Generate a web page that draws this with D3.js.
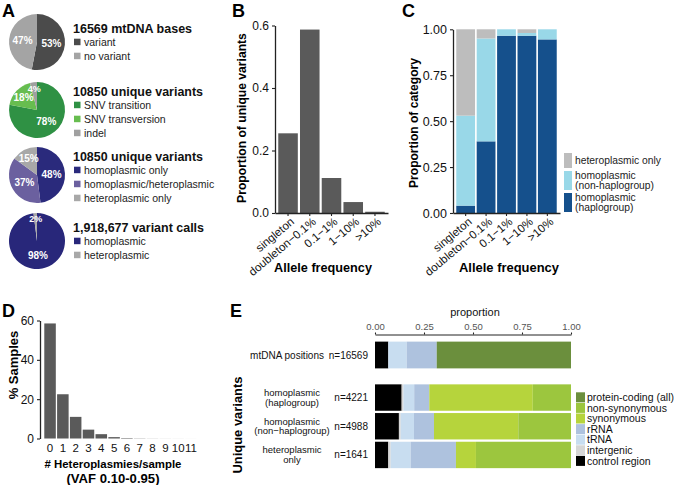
<!DOCTYPE html>
<html><head><meta charset="utf-8">
<script src="https://cdn.jsdelivr.net/npm/d3@7"></script>
<style>body{margin:0;background:#fff}svg{display:block}</style>
</head><body><svg id="c" width="675" height="485"></svg>
<script>
// ---------- DATA ----------
const pieTitles = ["16569 mtDNA bases", "10850 unique variants", "10850 unique variants", "1,918,677 variant calls"];
const pie1Labels = ["variant", "no variant"];
const pie1Values = [53, 47];
const pie2Labels = ["SNV transition", "SNV transversion", "indel"];
const pie2Values = [78, 18, 4];
const pie3Labels = ["homoplasmic only", "homoplasmic/heteroplasmic", "heteroplasmic only"];
const pie3Values = [48, 37, 15];
const pie4Labels = ["homoplasmic", "heteroplasmic"];
const pie4Values = [98, 2];

const freqCategories = ["singleton", "doubleton\u22120.1%", "0.1\u22121%", "1\u221210%", ">10%"];
const bValues = [0.255, 0.587, 0.112, 0.035, 0.004];
const bTicks = [0, 0.2, 0.4, 0.6];

const cSeries = ["homoplasmic (haplogroup)", "homoplasmic (non-haplogroup)", "heteroplasmic only"];
const cHaplogroup = [0.04, 0.39, 0.965, 0.965, 0.945];
const cNonHaplogroup = [0.49, 0.56, 0.035, 0.015, 0.055];
const cHeteroOnly = [0.47, 0.05, 0.0, 0.02, 0.0];
const cTicks = [0, 0.25, 0.5, 0.75, 1];

const dCategories = ["0", "1", "2", "3", "4", "5", "6", "7", "8", "9", "10", "11"];
const dValues = [58.5, 22.5, 11, 4.5, 2.2, 0.7, 0.25, 0.1, 0.05, 0.03, 0.02, 0.01];
const dTicks = [0, 20, 40, 60];

const eRows = ["mtDNA positions", "homoplasmic\n(haplogroup)", "homoplasmic\n(non\u2212haplogroup)", "heteroplasmic\nonly"];
const eN = [16569, 4221, 4988, 1641];
const eSeries = ["control region", "intergenic", "tRNA", "rRNA", "synonymous", "non-synonymous", "protein-coding (all)"];
const eControlRegion = [0.068, 0.136, 0.122, 0.068];
const eIntergenic = [0.0, 0.009, 0.009, 0.012];
const eTRNA = [0.094, 0.055, 0.068, 0.102];
const eRRNA = [0.153, 0.077, 0.102, 0.231];
const eSynonymous = [0.0, 0.528, 0.43, 0.102];
const eNonSynonymous = [0.0, 0.195, 0.269, 0.485];
const eProteinCodingAll = [0.685, 0.0, 0.0, 0.0];
const eTicks = [0, 0.25, 0.5, 0.75, 1];

// ---------- DRAW ----------
const FONT = '"Liberation Sans", Arial, Helvetica, sans-serif';
const svg = d3.select("#c").style("font-family", FONT);
svg.append("rect").attr("width", 675).attr("height", 485).attr("fill", "#fff");

function txt(x, y, s, opt = {}) {
  const t = svg.append("text").attr("x", x).attr("y", y).text(s)
    .style("font-family", FONT)
    .style("font-size", (opt.size || 11) + "px")
    .style("font-weight", opt.bold ? "bold" : "normal")
    .attr("fill", opt.fill || "#111")
    .attr("text-anchor", opt.anchor || "start");
  if (opt.rotate) t.attr("transform", `rotate(${opt.rotate},${x},${y})`);
  if (opt.dy) t.attr("dy", opt.dy);
  if (opt.fit) fit(t, opt.fit);
  return t;
}
// scale font size so the rendered text has the width seen in the reference
function fit(t, target) {
  const w = t.node().getComputedTextLength();
  if (w > 0) {
    const fs = parseFloat(t.style("font-size"));
    const k = Math.max(0.85, Math.min(1.3, target / w));
    t.style("font-size", (fs * k).toFixed(2) + "px");
  }
}
function styleAxis(g, size = 11, fill = "#111") {
  g.select(".domain").attr("stroke", "#222").attr("stroke-width", 1.3);
  g.selectAll(".tick line").attr("stroke", "#222").attr("stroke-width", 1.1);
  g.selectAll(".tick text").attr("fill", fill).style("font-size", size + "px").style("font-family", FONT);
}

// panel letters
[["A", 2, 17], ["B", 232, 17], ["C", 402, 17], ["D", 2, 317], ["E", 230, 317]].forEach(l =>
  txt(l[1], l[2], l[0], { size: 18, bold: true, fill: "#000" }));

// ---------- Panel A: pies ----------
const R = 28;
const pies = [
  { title: pieTitles[0], labels: pie1Labels, values: pie1Values, colors: ["#4b4b4b", "#a4a4a4"], cy: 42, tw: 119 },
  { title: pieTitles[1], labels: pie2Labels, values: pie2Values, colors: ["#2f9144", "#67bd4f", "#a0a0a0"], cy: 110, tw: 130 },
  { title: pieTitles[2], labels: pie3Labels, values: pie3Values, colors: ["#2a2a7c", "#6b609f", "#a8a8a8"], cy: 175, tw: 130 },
  { title: pieTitles[3], labels: pie4Labels, values: pie4Values, colors: ["#28277a", "#a8a8a8"], cy: 241, tw: 131 }
];
pies.forEach(p => {
  const g = svg.append("g").attr("transform", `translate(37,${p.cy})`);
  const arcs = d3.pie().sort(null)(p.values);
  const arc = d3.arc().innerRadius(0).outerRadius(R);
  g.selectAll("path").data(arcs).join("path").attr("d", arc).attr("fill", (d, i) => p.colors[i]);
  const total = d3.sum(p.values);
  g.selectAll("text").data(arcs).join("text")
    .text(d => d.data + "%")
    .attr("transform", d => {
      const f = d.value / total;
      const lr = f >= 0.3 ? 0.52 * R : (f >= 0.1 ? 0.66 * R : 0.78 * R);
      const c = d3.arc().innerRadius(lr).outerRadius(lr).centroid(d);
      return `translate(${c[0]},${c[1]})`;
    })
    .attr("text-anchor", "middle").attr("dy", "0.36em")
    .attr("fill", "#fff").style("font-family", FONT).style("font-size", "10.5px").style("font-weight", "bold")
    .each(function (d) { fit(d3.select(this), String(d.data).length >= 2 ? 20 : 13); });
  const n = p.labels.length;
  const ty = p.cy - 14 - (n - 2) * 5;
  txt(73, ty + 4.5, p.title, { size: 12.5, bold: true, fill: "#111", fit: p.tw });
  p.labels.forEach((lab, i) => {
    const yy = ty + 14 * (i + 1);
    svg.append("rect").attr("x", 74).attr("y", yy - 3.3).attr("width", 6.5).attr("height", 6.5).attr("fill", p.colors[i]);
    txt(84, yy + 3.8, lab, { size: 10.5, fill: "#222" });
  });
});

// ---------- Panel B ----------
{
  const x = d3.scaleBand().domain(freqCategories).range([275, 388]).paddingInner(0.1).paddingOuter(0.15);
  const y = d3.scaleLinear().domain([0, 0.6]).range([213, 25.5]);
  svg.append("g").selectAll("rect").data(bValues).join("rect")
    .attr("x", (d, i) => x(freqCategories[i])).attr("width", x.bandwidth())
    .attr("y", d => y(d)).attr("height", d => y(0) - y(d)).attr("fill", "#5a5a5a");
  const ga = svg.append("g").attr("transform", "translate(275,0)")
    .call(d3.axisLeft(y).tickValues(bTicks).tickFormat(d3.format(".1f")).tickSize(3).tickSizeOuter(0));
  styleAxis(ga, 12);
  const gb = svg.append("g").attr("transform", "translate(0,213)")
    .call(d3.axisBottom(x).tickSize(3).tickSizeOuter(0));
  styleAxis(gb, 11.5);
  gb.selectAll(".tick text").attr("x", -1).attr("y", 8).attr("dy", "0.35em")
    .attr("text-anchor", "end").attr("transform", "rotate(-40)");
  txt(246, 118, "Proportion of unique variants", { size: 12, bold: true, anchor: "middle", rotate: -90, fill: "#000", fit: 170 });
  txt(323, 272, "Allele frequency", { size: 13, bold: true, anchor: "middle", fill: "#000", fit: 98 });
}

// ---------- Panel C ----------
{
  const cColors = ["#15508c", "#99d8e8", "#bdbdbd"];
  const rows = freqCategories.map((c, i) => ({ cat: c, s0: cHaplogroup[i], s1: cNonHaplogroup[i], s2: cHeteroOnly[i] }));
  const stack = d3.stack().keys(["s0", "s1", "s2"])(rows);
  const x = d3.scaleBand().domain(freqCategories).range([453, 560]).paddingInner(0.08).paddingOuter(0.16);
  const y = d3.scaleLinear().domain([0, 1]).range([213, 29.3]);
  stack.forEach((layer, k) => {
    svg.append("g").selectAll("rect").data(layer).join("rect")
      .attr("x", d => x(d.data.cat)).attr("width", x.bandwidth())
      .attr("y", d => y(d[1])).attr("height", d => Math.max(0, y(d[0]) - y(d[1])))
      .attr("fill", cColors[k]);
  });
  const ga = svg.append("g").attr("transform", "translate(453,0)")
    .call(d3.axisLeft(y).tickValues(cTicks).tickFormat(d3.format(".2f")).tickSize(3).tickSizeOuter(0));
  styleAxis(ga, 12.5);
  const gb = svg.append("g").attr("transform", "translate(0,213)")
    .call(d3.axisBottom(x).tickSize(3).tickSizeOuter(0));
  styleAxis(gb, 11.5);
  gb.selectAll(".tick text").attr("x", -1).attr("y", 8).attr("dy", "0.35em")
    .attr("text-anchor", "end").attr("transform", "rotate(-40)");
  txt(418, 123, "Proportion of category", { size: 12, bold: true, anchor: "middle", rotate: -90, fill: "#000", fit: 130 });
  txt(509, 272, "Allele frequency", { size: 13, bold: true, anchor: "middle", fill: "#000", fit: 100 });
  // legend
  const leg = [
    { lines: ["heteroplasmic only"], color: cColors[2], y0: 153, y1: 168 },
    { lines: ["homoplasmic", "(non-haplogroup)"], color: cColors[1], y0: 171, y1: 190 },
    { lines: ["homoplasmic", "(haplogroup)"], color: cColors[0], y0: 193, y1: 212 }
  ];
  leg.forEach(l => {
    svg.append("rect").attr("x", 564).attr("y", l.y0).attr("width", 8).attr("height", l.y1 - l.y0).attr("fill", l.color);
    const mid = (l.y0 + l.y1) / 2;
    l.lines.forEach((s, j) => txt(575, mid - (l.lines.length - 1) * 5 + j * 10 + 3.6, s, { size: 10.3, fill: "#222" }));
  });
}

// ---------- Panel D ----------
{
  const x = d3.scaleBand().domain(dCategories).range([43, 198]).paddingInner(0.1).paddingOuter(0.1);
  const y = d3.scaleLinear().domain([0, 60]).range([438.5, 320.5]);
  svg.append("g").selectAll("rect").data(dValues).join("rect")
    .attr("x", (d, i) => x(dCategories[i])).attr("width", x.bandwidth())
    .attr("y", d => y(d)).attr("height", d => y(0) - y(d)).attr("fill", "#5a5a5a");
  const ga = svg.append("g").attr("transform", "translate(40,0)")
    .call(d3.axisLeft(y).tickValues(dTicks).tickFormat(d3.format("d")).tickSize(3).tickSizeOuter(0));
  styleAxis(ga, 12);
  const gb = svg.append("g").attr("transform", "translate(0,440)")
    .call(d3.axisBottom(x).tickSize(0).tickPadding(4));
  styleAxis(gb, 11.5);
  gb.select(".domain").remove();
  txt(18, 365, "% Samples", { size: 13, bold: true, anchor: "middle", rotate: -90, fill: "#000" });
  txt(113, 468, "# Heteroplasmies/sample", { size: 12, bold: true, anchor: "middle", fill: "#000", fit: 137 });
  txt(113, 483, "(VAF 0.10-0.95)", { size: 12, bold: true, anchor: "middle", fill: "#000", fit: 93 });
}

// ---------- Panel E ----------
{
  const eColors = ["#000000", "#d6d6d6", "#c8ddf0", "#aec2de", "#b6d43c", "#9cc63e", "#6b8f3d"];
  const cols = [eControlRegion, eIntergenic, eTRNA, eRRNA, eSynonymous, eNonSynonymous, eProteinCodingAll];
  const rows = eRows.map((r, i) => {
    const o = { row: r };
    eSeries.forEach((s, k) => o[s] = cols[k][i]);
    return o;
  });
  const stack = d3.stack().keys(eSeries)(rows);
  const x = d3.scaleLinear().domain([0, 1]).range([375, 571]);
  const yTop = d3.scaleBand().domain(eRows.slice(0, 1)).range([340.5, 369.5]).padding(0.04);
  const yBot = d3.scaleBand().domain(eRows.slice(1)).range([383.5, 469]).paddingInner(0.08).paddingOuter(0.03);
  const yPos = r => r === eRows[0] ? yTop(r) : yBot(r);
  const bw = r => r === eRows[0] ? yTop.bandwidth() : yBot.bandwidth();
  stack.forEach((layer, k) => {
    svg.append("g").selectAll("rect").data(layer).join("rect")
      .attr("y", d => yPos(d.data.row)).attr("height", d => bw(d.data.row))
      .attr("x", d => x(d[0])).attr("width", d => Math.max(0, x(d[1]) - x(d[0])))
      .attr("fill", eColors[k]);
  });
  const ga = svg.append("g").attr("transform", "translate(0,334.5)")
    .call(d3.axisTop(x).tickValues(eTicks).tickFormat(d3.format(".2f")).tickSize(2).tickPadding(3).tickSizeOuter(0));
  styleAxis(ga, 9.5, "#555");
  ga.select(".domain").attr("stroke-width", 1);
  txt(475, 316, "proportion", { size: 11, anchor: "middle", fill: "#111" });
  txt(242, 425, "Unique variants", { size: 13, bold: true, anchor: "middle", rotate: -90, fill: "#000", fit: 97 });
  // row labels
  eRows.forEach((r, i) => {
    const cy = yPos(r) + bw(r) / 2;
    const lines = r.split("\n");
    if (i === 0) {
      txt(324, cy + 3.5, lines[0], { size: 10, anchor: "end", fill: "#111" });
    } else {
      lines.forEach((s, j) => txt(292, cy - (lines.length - 1) * 4.9 + j * 9.8 + 3.2, s, { size: 9.5, anchor: "middle", fill: "#111" }));
    }
    txt(368, cy + 3.5, "n=" + eN[i], { size: 10, anchor: "end", fill: "#111" });
  });
  // legend (reverse order)
  const legOrder = eSeries.slice().reverse();
  legOrder.forEach((s, j) => {
    const cy = 397.3 + j * 10.6;
    const k = eSeries.indexOf(s);
    svg.append("rect").attr("x", 576).attr("y", cy - 5).attr("width", 9).attr("height", 10).attr("fill", eColors[k]);
    txt(587, cy + 3.7, s, { size: 10.5, fill: "#111" });
  });
}
</script></body></html>
